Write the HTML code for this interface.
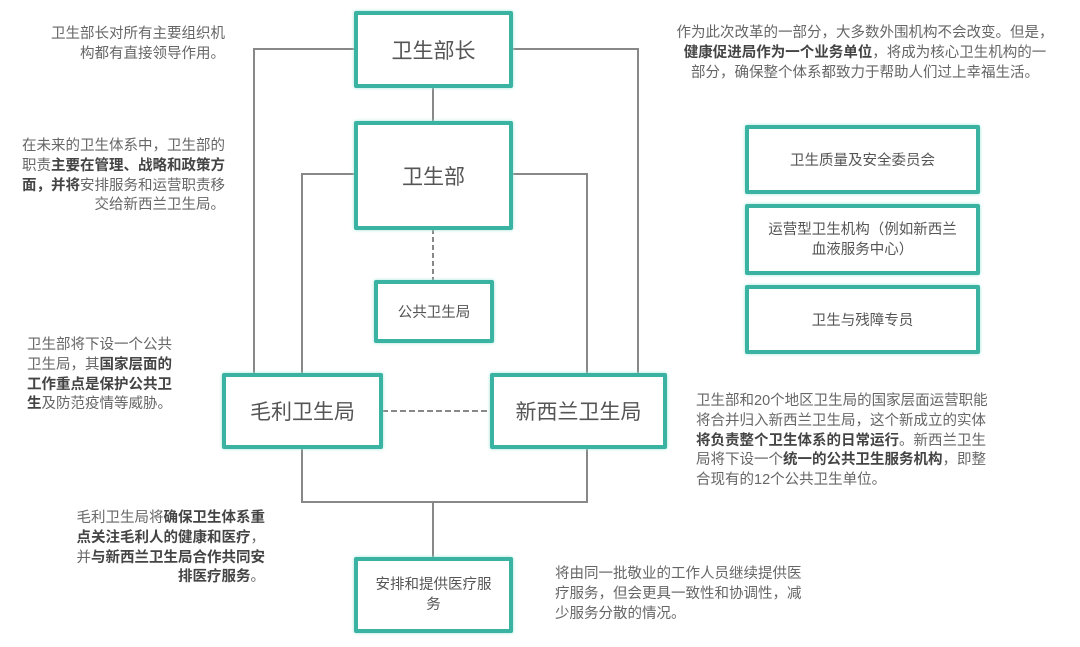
<!DOCTYPE html>
<html><head><meta charset="utf-8"><style>
body{margin:0;width:1080px;height:647px;background:#fff;position:relative;overflow:hidden;font-family:"Liberation Sans","Noto Sans CJK SC",sans-serif;color:#666}
.b{position:absolute;border:4px solid #3bb3a3;border-radius:2px;box-sizing:border-box;display:flex;align-items:center;justify-content:center;text-align:center;color:#555;background:#fff;box-shadow:0 0 3px #9ee3d8}
.t{position:absolute;font-size:14.5px;line-height:19.8px}
.t b{color:#444}
</style></head><body>
<svg width="1080" height="647" style="position:absolute;left:0;top:0">
<g stroke="#888" stroke-width="2" fill="none">
<polyline points="355,49 254,49 254,374"/>
<polyline points="512,49 638,49 638,374"/>
<polyline points="355,174 302,174 302,374"/>
<polyline points="512,174 587,174 587,374"/>
<line x1="433" y1="87" x2="433" y2="122"/>
<polyline points="302,448 302,502 587,502 587,448"/>
<line x1="433" y1="502" x2="433" y2="558"/>
<line x1="433" y1="229" x2="433" y2="280" stroke-dasharray="5,3"/>
<line x1="382" y1="411" x2="490" y2="411" stroke-dasharray="6,3"/>
</g></svg>
<div class="b" style="left:354px;top:11px;width:159px;height:77px;font-size:21px">卫生部长</div>
<div class="b" style="left:354px;top:121px;width:159px;height:109px;font-size:21px">卫生部</div>
<div class="b" style="left:374px;top:280px;width:120px;height:63px;font-size:14.5px">公共卫生局</div>
<div class="b" style="left:222px;top:373px;width:161px;height:76px;font-size:21px">毛利卫生局</div>
<div class="b" style="left:490px;top:373px;width:177px;height:76px;font-size:21px">新西兰卫生局</div>
<div class="b" style="left:354px;top:557px;width:159px;height:76px;font-size:14.5px;line-height:20px;padding:0 16px">安排和提供医疗服务</div>
<div class="b" style="left:745px;top:125px;width:235px;height:69px;font-size:14.5px">卫生质量及安全委员会</div>
<div class="b" style="left:745px;top:204px;width:235px;height:71px;font-size:14.5px;line-height:20px"><div>运营型卫生机构（例如新西兰<br>血液服务中心）</div></div>
<div class="b" style="left:745px;top:285px;width:235px;height:69px;font-size:14.5px">卫生与残障专员</div>

<div class="t" style="left:20px;top:25px;width:205px;text-align:right">卫生部长对所有主要组织机<br>构都有直接领导作用。</div>
<div class="t" style="left:0px;top:137px;width:225px;text-align:right">在未来的卫生体系中，卫生部的<br>职责<b>主要在管理、战略和政策方<br>面，并将</b>安排服务和运营职责移<br>交给新西兰卫生局。</div>
<div class="t" style="left:27px;top:336px;width:170px">卫生部将下设一个公共<br>卫生局，其<b>国家层面的<br>工作重点是保护公共卫<br>生</b>及防范疫情等威胁。</div>
<div class="t" style="left:55px;top:509px;width:210px;text-align:right">毛利卫生局将<b>确保卫生体系重<br>点关注毛利人的健康和医疗</b>，<br>并<b>与新西兰卫生局合作共同安<br>排医疗服务</b>。</div>
<div class="t" style="left:655px;top:24px;width:420px;text-align:center">作为此次改革的一部分，大多数外围机构不会改变。但是，<br><b>健康促进局作为一个业务单位</b>，将成为核心卫生机构的一<br>部分，确保整个体系都致力于帮助人们过上幸福生活。</div>
<div class="t" style="left:696px;top:392px;width:340px">卫生部和20个地区卫生局的国家层面运营职能<br>将合并归入新西兰卫生局，这个新成立的实体<br><b>将负责整个卫生体系的日常运行</b>。新西兰卫生<br>局将下设一个<b>统一的公共卫生服务机构</b>，即整<br>合现有的12个公共卫生单位。</div>
<div class="t" style="left:555px;top:565px;width:270px">将由同一批敬业的工作人员继续提供医<br>疗服务，但会更具一致性和协调性，减<br>少服务分散的情况。</div>
</body></html>
